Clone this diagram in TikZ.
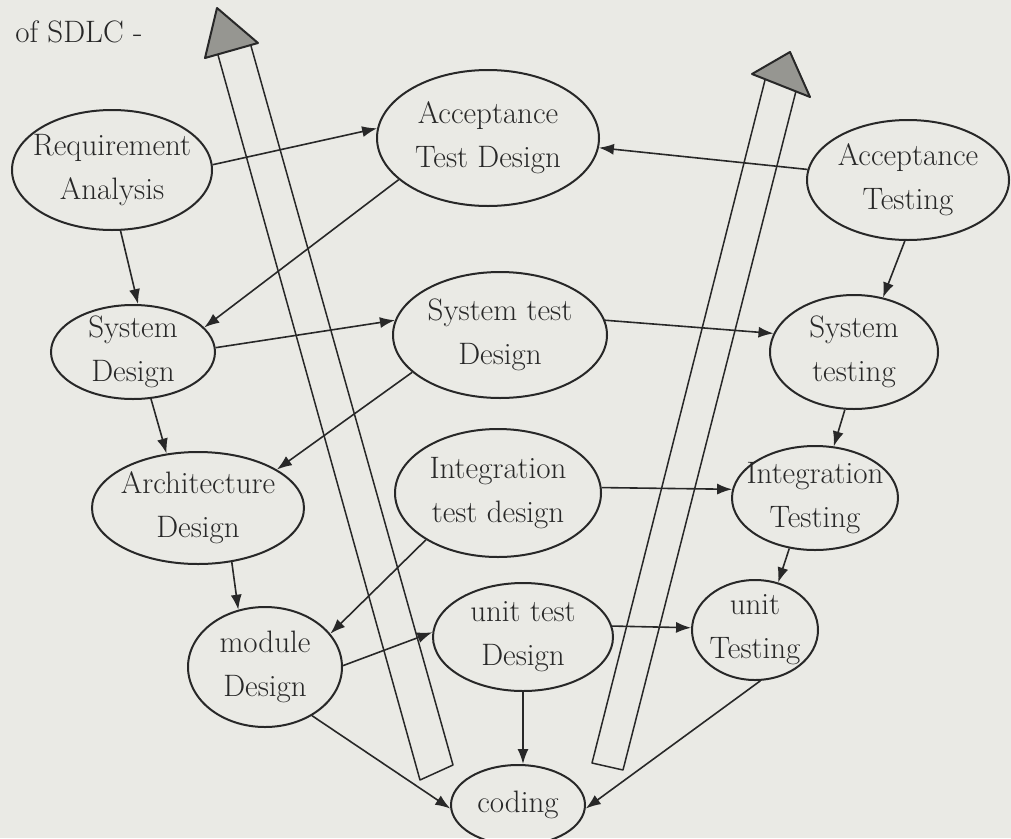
\documentclass[tikz,border=0pt]{standalone}
\usetikzlibrary{shapes.geometric,arrows.meta}
\definecolor{paper}{RGB}{234,234,229}
\definecolor{ink}{RGB}{40,40,40}
\definecolor{headfill}{RGB}{150,150,145}
\tikzset{
  oval/.style={ellipse,draw=ink,line width=2pt,inner sep=-28pt,align=center,
    font=\fontsize{31}{44}\selectfont,text=ink},
  conn/.style={draw=ink,line width=1.6pt,-{Latex[length=15pt,width=11pt]}},
  shaft/.style={draw=ink,line width=1.5pt,line join=round},
  bighead/.style={draw=ink,line width=2pt,fill=headfill,line join=round}
}
\begin{document}
\begin{tikzpicture}[x=1pt,y=-1pt]
\fill[paper] (0,0) rectangle (1011,838);
\useasboundingbox (0,0) rectangle (1011,838);

% title
\node[anchor=east,text=ink,font=\fontsize{31}{34}\selectfont] (title) at (146,32) {of SDLC -};

% big hollow arrows
\draw[shaft] (218,55) -- (420,780) -- (453,765) -- (251,46);
\draw[bighead] (217,8) -- (205,58) -- (258,43) -- cycle;
\draw[shaft] (765,80) -- (592,763) -- (623,770) -- (796,91);
\draw[bighead] (790,52) -- (752,74) -- (810,97) -- cycle;

% nodes
\node[oval,minimum width=200pt,minimum height=120pt] (ra)  at (112,170) {Requirement\\Analysis};
\node[oval,minimum width=222pt,minimum height=136pt] (atd) at (488,138) {Acceptance\\Test Design};
\node[oval,minimum width=202pt,minimum height=120pt] (at)  at (908,180) {Acceptance\\Testing};
\node[oval,minimum width=164pt,minimum height=94pt]  (sd)  at (133,352) {System\\Design};
\node[oval,minimum width=214pt,minimum height=126pt] (std) at (500,335) {System test\\Design};
\node[oval,minimum width=168pt,minimum height=114pt] (st)  at (854,352) {System\\testing};
\node[oval,minimum width=212pt,minimum height=112pt] (ad)  at (198,508) {Architecture\\Design};
\node[oval,minimum width=206pt,minimum height=128pt] (itd) at (498,493) {Integration\\test design};
\node[oval,minimum width=166pt,minimum height=104pt] (it)  at (815,498) {Integration\\Testing};
\node[oval,minimum width=154pt,minimum height=120pt] (md)  at (265,667) {module\\Design};
\node[oval,minimum width=180pt,minimum height=108pt] (utd) at (523,637) {unit test\\Design};
\node[oval,minimum width=126pt,minimum height=100pt] (ut)  at (755,630) {unit\\Testing};
\node[oval,minimum width=134pt,minimum height=80pt]  (cod) at (518,805) {coding};

% connectors
\draw[conn] (ra.3) -- (atd.175);
\draw[conn] (at.174) -- (atd.355);
\draw[conn] (atd.205) -- (sd.19);
\draw[conn] (ra.278) -- (sd.84);
\draw[conn] (at.267) -- (st.62);
\draw[conn] (sd.3) -- (std.172);
\draw[conn] (std.8) -- (st.167);
\draw[conn] (std.203) -- (ad.26);
\draw[conn] (sd.291) -- (ad.120);
\draw[conn] (st.261) -- (it.70);
\draw[conn] (itd.3) -- (it.174);
\draw[conn] (itd.213) -- (md.27);
\draw[conn] (ad.302) -- (md.115);
\draw[conn] (it.243) -- (ut.64);
\draw[conn] (md.1.5) -- (utd.177);
\draw[conn] (utd.7) -- (ut.178);
\draw[conn] (utd.south) -- (utd.south |- cod.north);
\draw[conn] (md.314) -- (cod.183);
\draw[conn] (ut.276) -- (cod.357);
\end{tikzpicture}
\end{document}
